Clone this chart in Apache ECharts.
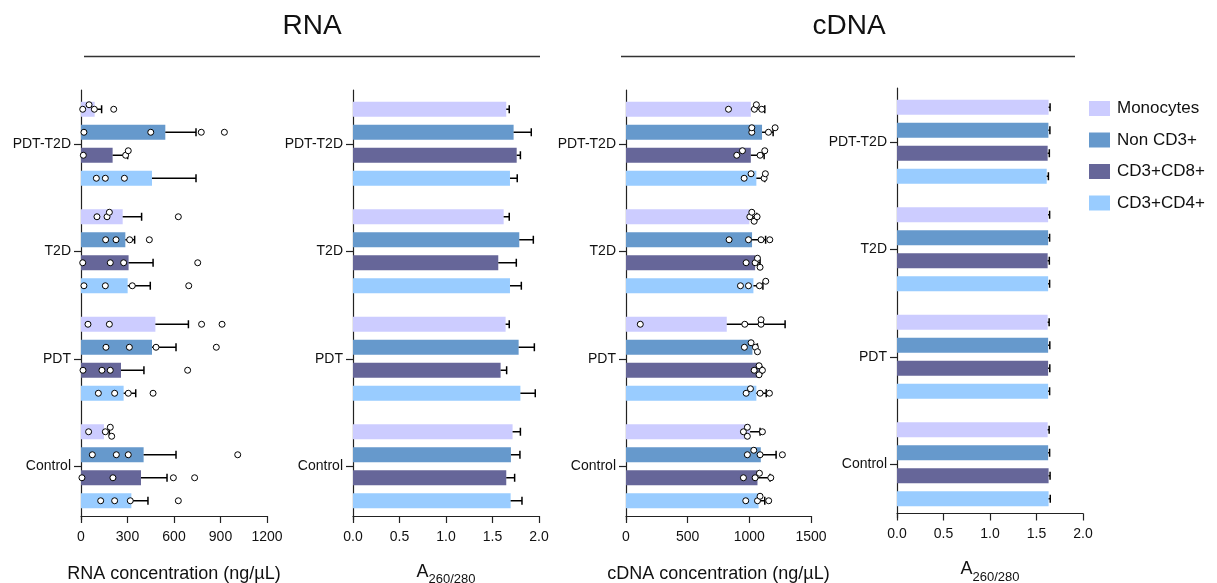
<!DOCTYPE html>
<html>
<head>
<meta charset="utf-8">
<script src="https://cdn.jsdelivr.net/npm/echarts@6/dist/echarts.min.js"></script>
<style>
html, body { margin: 0; padding: 0; background: #fff; }
#main { width: 1217px; height: 583px; }
</style>
</head>
<body>
<div id="main"></div>
<script>
// categories from bottom to top of each panel
const groups = ['Control', 'PDT', 'T2D', 'PDT-T2D']
const cells = ['Monocytes', 'Non CD3+', 'CD3+CD8+', 'CD3+CD4+']
const colors = ['#ccccff', '#6699cc', '#666699', '#99ccff']

// RNA concentration (ng/uL): mean, error, single values
const rnaConcMean = [
    [148, 480, 269, 88],
    [404, 458, 286, 544],
    [387, 258, 307, 204],
    [325, 275, 301, 458]
]
const rnaConcErr = [
    [35, 213, 122, 45],
    [209, 155, 60, 198],
    [168, 148, 158, 97],
    [107, 78, 146, 284]
]
const rnaConcDots = [
    [[49, 157, 198, 189], [45, 183, 778, 910], [103, 168, 183, 628], [11, 52, 86, 211]],
    [[73, 228, 305, 1011], [161, 312, 484, 873], [159, 226, 314, 441], [19, 450, 776, 925]],
    [[6, 206, 596, 733], [13, 135, 189, 688], [11, 189, 275, 753], [15, 288, 305]],
    [[127, 217, 318, 628], [112, 217, 305, 465], [19, 157, 331, 695], [99, 157, 280]]
]

// RNA A260/280
const rnaRatioMean = [
    [1.716, 1.641, 1.62, 1.648],
    [1.698, 1.781, 1.788, 1.727],
    [1.648, 1.587, 1.562, 1.76],
    [1.695, 1.80, 1.688, 1.688]
]
const rnaRatioErr = [
    [0.084, 0.039, 0.06, 0.032],
    [0.097, 0.169, 0.151, 0.19],
    [0.09, 0.065, 0.194, 0.04],
    [0.122, 0.16, 0.122, 0.078]
]

// cDNA concentration (ng/uL)
const cdnaConcMean = [
    [1006, 817, 1000, 1012],
    [1093, 1025, 1022, 1103],
    [1066, 1076, 1047, 1012],
    [1075, 1057, 1033, 1057]
]
const cdnaConcErr = [
    [81, 473, 60, 113],
    [124, 40, 110, 90],
    [102, 30, 40, 108],
    [50, 80, 77, 68]
]
const cdnaConcDots = [
    [[984, 984, 952, 1106], [116, 963, 1095, 1095], [1020, 1063, 1039, 1004], [831, 1041, 1101, 1057]],
    [[984, 1036, 1087, 1268], [960, 1014, 1066, 1049], [836, 993, 1095, 1166], [1020, 1020, 1155, 1209]],
    [[952, 1047, 1082, 1174], [1079, 1039, 1106, 1079], [974, 1047, 1066, 1087], [944, 898, 1125, 1087]],
    [[971, 1066, 1087, 1157], [1009, 974, 1087, 1163], [928, 993, 1082, 1133], [958, 1014, 1130, 1120]]
]

// cDNA A260/280
const cdnaRatioMean = [
    [1.62, 1.62, 1.625, 1.63],
    [1.625, 1.625, 1.625, 1.628],
    [1.63, 1.625, 1.62, 1.62],
    [1.63, 1.625, 1.625, 1.61]
]
const cdnaRatioErr = [
    [0.016, 0.016, 0.016, 0.016],
    [0.016, 0.018, 0.016, 0.016],
    [0.016, 0.018, 0.018, 0.018],
    [0.018, 0.016, 0.016, 0.018]
]

const BAR_W = 15
const BAR_STEP = 23
const axisColor = '#222'
const ratioName = '{a|A}{s|260/280}'

const panels = [
    { grid: { left: 81, top: 90, width: 186, height: 430 }, offset: -4, max: 1200, interval: 300, digits: 0, nameGap: 49,
      name: 'RNA concentration (ng/µL)', mean: rnaConcMean, err: rnaConcErr, dots: rnaConcDots },
    { grid: { left: 353, top: 90, width: 186, height: 430 }, offset: -4, max: 2, interval: 0.5, digits: 1, nameGap: 47,
      name: ratioName, mean: rnaRatioMean, err: rnaRatioErr, dots: null },
    { grid: { left: 626, top: 90, width: 185, height: 430 }, offset: -4, max: 1500, interval: 500, digits: 0, nameGap: 49,
      name: 'cDNA concentration (ng/µL)', mean: cdnaConcMean, err: cdnaConcErr, dots: cdnaConcDots },
    { grid: { left: 897, top: 88, width: 186, height: 430 }, offset: -4.5, max: 2, interval: 0.5, digits: 1, nameGap: 47,
      name: ratioName, mean: cdnaRatioMean, err: cdnaRatioErr, dots: null }
]

function barOffset (cellIdx) {
    return (cellIdx - 1.5) * BAR_STEP
}

function errorBarItem (cellIdx) {
    return function (params, api) {
        const cat = api.value(1)
        const p0 = api.coord([api.value(0), cat])
        const p1 = api.coord([api.value(2), cat])
        const y = p0[1] + barOffset(cellIdx)
        const style = { stroke: '#000', lineWidth: 1.5 }
        return {
            type: 'group',
            children: [
                { type: 'line', shape: { x1: p0[0], y1: y, x2: p1[0], y2: y }, style: style },
                { type: 'line', shape: { x1: p1[0], y1: y - 4, x2: p1[0], y2: y + 4 }, style: style }
            ]
        }
    }
}

// single values, nudged up/down when they would overlap
function dotsItem (cellIdx, dots) {
    return function (params, api) {
        const cat = api.value(1)
        const yc = api.coord([0, cat])[1] + barOffset(cellIdx)
        const xs = dots[cat].map(v => api.coord([v, cat])[0]).sort((a, b) => a - b)
        const lanes = {}
        const children = xs.map(x => {
            let lane = [0, -1, 1, -2, 2].find(l => !(lanes[l] || []).some(px => Math.abs(px - x) < 7))
            if (lane === undefined) lane = 0
            if (!lanes[lane]) lanes[lane] = []
            lanes[lane].push(x)
            return {
                type: 'circle',
                shape: { cx: x, cy: yc + lane * 4.5, r: 3 },
                style: { fill: '#fff', stroke: '#000', lineWidth: 1 }
            }
        })
        return { type: 'group', children: children }
    }
}

const grids = []
const xAxes = []
const yAxes = []
const series = []

panels.forEach((p, pi) => {
    // keep the plot box where it is, even if labels reach the edge
    grids.push(Object.assign({ outerBoundsMode: 'none', containLabel: false }, p.grid))
    xAxes.push({
        gridIndex: pi,
        type: 'value',
        min: 0,
        max: p.max,
        interval: p.interval,
        offset: p.offset,
        axisLine: { show: true, lineStyle: { color: axisColor, width: 1.2 } },
        axisTick: { show: true, length: 7, lineStyle: { color: axisColor, width: 1.2 } },
        axisLabel: {
            fontSize: 14, color: '#111', margin: 14,
            formatter: v => v.toFixed(p.digits)
        },
        splitLine: { show: false },
        name: p.name,
        nameLocation: 'middle',
        nameGap: p.nameGap,
        nameTextStyle: {
            fontSize: 18,
            color: '#111',
            rich: {
                a: { fontSize: 18, color: '#111', padding: [0, 0, 5, 0], verticalAlign: 'bottom' },
                s: { fontSize: 13, color: '#111', verticalAlign: 'bottom' }
            }
        }
    })
    yAxes.push({
        gridIndex: pi,
        type: 'category',
        data: groups,
        axisLine: { show: true, lineStyle: { color: axisColor, width: 1.2 } },
        axisTick: { show: true, alignWithLabel: true, length: 7, lineStyle: { color: axisColor, width: 1.2 } },
        axisLabel: { fontSize: 14, color: '#111', margin: 10 }
    })
    cells.forEach((c, ci) => {
        series.push({
            type: 'bar',
            name: c,
            xAxisIndex: pi,
            yAxisIndex: pi,
            data: p.mean[ci],
            barWidth: BAR_W,
            barGap: '53.3%',
            itemStyle: { color: colors[ci] },
            z: 2
        })
        series.push({
            type: 'custom',
            xAxisIndex: pi,
            yAxisIndex: pi,
            renderItem: errorBarItem(ci),
            encode: { x: [0, 2], y: 1 },
            data: groups.map((g, gi) => [p.mean[ci][gi], gi, p.mean[ci][gi] + p.err[ci][gi]]),
            z: 3,
            silent: true
        })
        if (p.dots) {
            series.push({
                type: 'custom',
                xAxisIndex: pi,
                yAxisIndex: pi,
                renderItem: dotsItem(ci, p.dots[ci]),
                encode: { x: 0, y: 1 },
                data: groups.map((g, gi) => [p.mean[ci][gi], gi]),
                z: 4,
                silent: true
            })
        }
    })
})

const myChart = echarts.init(document.getElementById('main'), null, { renderer: 'canvas' })
myChart.setOption({
    animation: false,
    textStyle: { fontFamily: '"Liberation Sans", Arial, sans-serif' },
    grid: grids,
    xAxis: xAxes,
    yAxis: yAxes,
    legend: {
        data: cells,
        orient: 'vertical',
        left: 1084,
        top: 95,
        icon: 'rect',
        itemWidth: 21,
        itemHeight: 15,
        itemGap: 14.5,
        selectedMode: false,
        textStyle: { fontSize: 17, color: '#111', lineHeight: 15, padding: [0, 0, 0, 2] }
    },
    graphic: [
        { type: 'text', style: { text: 'RNA', x: 312, y: 26, textAlign: 'center', textVerticalAlign: 'middle',
            font: '28px "Liberation Sans", Arial, sans-serif', fill: '#111' } },
        { type: 'text', style: { text: 'cDNA', x: 849, y: 26, textAlign: 'center', textVerticalAlign: 'middle',
            font: '28px "Liberation Sans", Arial, sans-serif', fill: '#111' } },
        { type: 'line', shape: { x1: 84, y1: 56.5, x2: 540, y2: 56.5 }, style: { stroke: '#333', lineWidth: 1.5 } },
        { type: 'line', shape: { x1: 621, y1: 56.5, x2: 1075, y2: 56.5 }, style: { stroke: '#333', lineWidth: 1.5 } }
    ],
    series: series
})
</script>
</body>
</html>
